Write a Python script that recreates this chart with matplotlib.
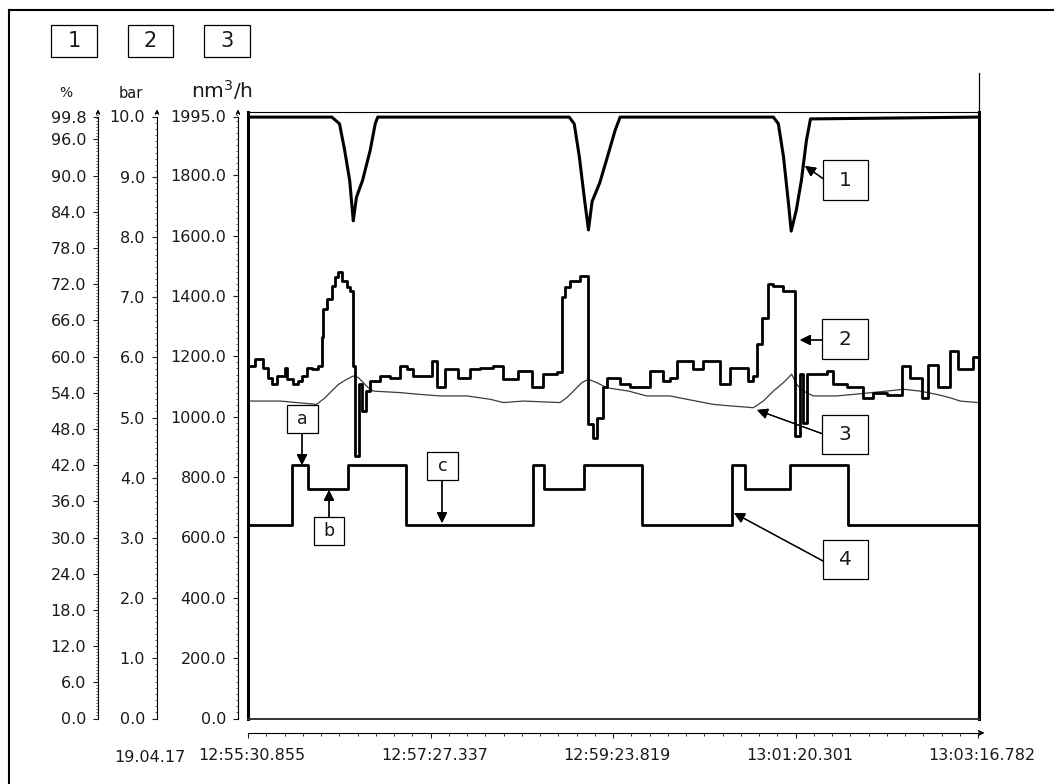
import matplotlib
matplotlib.use('Agg')
import matplotlib.pyplot as plt
from matplotlib.patches import Rectangle
from matplotlib.lines import Line2D
from matplotlib.ticker import MultipleLocator, FixedLocator
from matplotlib.transforms import ScaledTranslation

plt.rcParams.update({
    'font.family': 'DejaVu Sans',
    'font.size': 11.5,
    'text.color': '#1a1a1a',
    'xtick.color': '#1a1a1a',
    'ytick.color': '#1a1a1a',
})

# ── Data ──────────────────────────────────────────────────────
T_END = 465.927   # seconds, 12:55:30.855 -> 13:03:16.782
x_ticks = [0, 116.482, 232.964, 349.446, T_END]
x_labels = ['12:55:30.855', '12:57:27.337', '12:59:23.819', '13:01:20.301', '13:03:16.782']
date_label = '19.04.17'

# 1 : % (valve opening)
s1_t = [0, 53.5, 58.4, 61.7, 64.9, 66.6, 67.2, 69.2, 73.1, 78.0, 81.2, 82.8,
        205.0, 208.2, 211.5, 214.7, 217.3, 219.6, 224.5, 229.4, 234.3, 237.5,
        335.3, 338.5, 341.8, 345.0, 346.7, 349.9, 353.2, 356.4, 359.0, T_END]
s1_v = [99.7, 99.7, 98.6, 94.2, 89.2, 84.2, 82.5, 86.4, 89.2, 94.2, 98.6, 99.7,
        99.7, 98.6, 93.1, 86.2, 81.0, 85.7, 88.8, 93.1, 97.5, 99.7,
        99.7, 98.6, 93.1, 85.3, 80.8, 84.2, 89.2, 95.8, 99.4, 99.7]

# 2 : bar (pressure)
s2_t = [0, 4.5, 9.8, 13.0, 15.1, 18.3, 23.6, 24.7, 29.0, 32.1, 34.3, 37.5, 40.7, 44.9,
        47.0, 48.1, 50.2, 53.4, 55.5, 57.7, 59.8, 63.0, 65.1, 66.8, 68.3, 71.1, 72.6,
        75.3, 77.9, 84.3, 90.7, 97.0, 101.3, 105.6, 117.3, 120.4, 125.8, 134.3, 141.7,
        148.1, 156.6, 163.0, 172.6, 181.1, 188.5, 197.1, 200.2, 202.4, 205.6, 212.0,
        217.3, 220.5, 222.6, 226.8, 229.0, 237.4, 243.8, 256.6, 265.1, 269.3, 273.6,
        284.2, 290.6, 301.2, 307.6, 319.3, 322.5, 324.6, 327.8, 332.1, 335.3, 341.7,
        349.1, 352.3, 354.4, 356.6, 369.3, 373.6, 382.1, 392.7, 399.1, 407.6, 417.2,
        422.5, 430.0, 434.2, 440.6, 448.1, 453.4, 463.0, T_END]
s2_v = [5.86, 5.97, 5.83, 5.66, 5.55, 5.69, 5.83, 5.64, 5.55, 5.61, 5.69, 5.83, 5.80, 5.86,
        6.33, 6.80, 6.97, 7.19, 7.33, 7.41, 7.27, 7.16, 7.10, 5.86, 4.36, 5.55, 5.11,
        5.44, 5.61, 5.69, 5.66, 5.86, 5.80, 5.69, 5.94, 5.50, 5.80, 5.66, 5.80,
        5.83, 5.86, 5.64, 5.77, 5.50, 5.72, 5.75, 7.00, 7.16, 7.27, 7.35,
        4.89, 4.66, 5.00, 5.50, 5.66, 5.55, 5.50, 5.77, 5.61, 5.66, 5.94,
        5.80, 5.94, 5.55, 5.83, 5.61, 5.69, 6.22, 6.66, 7.22, 7.19, 7.10,
        4.69, 5.72, 4.91, 5.72, 5.77, 5.55, 5.50, 5.33, 5.41, 5.38, 5.86,
        5.66, 5.33, 5.88, 5.50, 6.11, 5.80, 6.00, 6.00]

# 3 : nm3/h (flow)
s3_t = [0, 20.4, 43.8, 49.2, 53.4, 57.7, 63.0, 67.2, 70.4, 73.6, 76.8, 80.0, 97.0,
        109.8, 122.6, 139.6, 154.5, 163.0, 175.8, 199.2, 203.4, 207.7, 213.0, 217.3,
        222.6, 229.0, 243.0, 254.4, 269.3, 280.0, 297.0, 307.6, 322.5, 328.9, 335.3,
        341.7, 347.0, 350.2, 354.4, 360.8, 375.7, 386.4, 407.6, 418.3, 428.9, 439.6,
        448.1, 454.5, T_END]
s3_v = [1052, 1052, 1041, 1063, 1085, 1107, 1124, 1135, 1130, 1113, 1096, 1085, 1080,
        1074, 1069, 1069, 1058, 1047, 1052, 1047, 1063, 1085, 1113, 1124,
        1113, 1096, 1085, 1069, 1069, 1058, 1041, 1036, 1030, 1052, 1085,
        1113, 1141, 1107, 1085, 1069, 1069, 1074, 1085, 1091, 1085, 1074,
        1063, 1052, 1047]

# 4 : % (set point)
s4_t = [0, 28.1, 38.3, 63.8, 100.9, 181.9, 188.9, 214.5, 251.5, 308.9, 317.2, 346.0, 383.0, T_END]
s4_v = [32, 42, 38, 42, 32, 42, 38, 42, 32, 42, 38, 42, 32, 32]

# ── Layout helpers (figure pixels) ────────────────────────────
W, H = 1054, 784
def fx(x):
    return x / W
def fy(y):
    return 1 - y / H

Y0, YTOP = 718.5, 112.0       # pixel rows of value 0 and frame top
K = (Y0 - YTOP) / (Y0 - 116.5)  # frame top / axis max ratio
AX_B, AX_H = fy(Y0), (Y0 - YTOP) / H

fig = plt.figure(figsize=(W / 100, H / 100), dpi=100)

# ── Main plot ─────────────────────────────────────────────────
ax = fig.add_axes([fx(248), AX_B, (979 - 248) / W, AX_H])
ax.set_xlim(0, T_END * 731 / 730)
ax.set_ylim(0, 1995 * K)
ax.set_xticks([]); ax.set_yticks([])
for side, lw, col in [('left', 2.2, 'black'), ('right', 2.2, 'black'),
                      ('top', 0.8, 'black'), ('bottom', 1.4, '#333333')]:
    ax.spines[side].set_linewidth(lw)
    ax.spines[side].set_color(col)

ax_pct = ax.twinx()
ax_pct.set_ylim(0, 99.8 * K)
ax_bar = ax.twinx()
ax_bar.set_ylim(0, 10.0 * K)
for a in (ax_pct, ax_bar):
    a.set_yticks([])
    for s in a.spines.values():
        s.set_visible(False)

ax.plot(s3_t, s3_v, color='#3c3c3c', lw=0.9)
ax_bar.plot(s2_t, s2_v, color='black', lw=2.0, drawstyle='steps-post')
ax_pct.plot(s4_t, s4_v, color='black', lw=2.0, drawstyle='steps-post')
ax_pct.plot(s1_t, s1_v, color='black', lw=2.2)

# cursor line above right edge
fig.add_artist(Line2D([fx(979), fx(979)], [fy(73), fy(YTOP)], color='black', lw=0.9))

# ── Left value axes ───────────────────────────────────────────
axes_spec = [
    (98, 99.8, [i * 6.0 for i in range(17)] + [99.8], 0.5),
    (157, 10.0, [float(i) for i in range(11)], 0.1),
    (238, 1995.0, [i * 200.0 for i in range(10)] + [1995.0], 20),
]
for xpix, vmax, majors, minor in axes_spec:
    la = fig.add_axes([fx(xpix), AX_B, 0.0001, AX_H])
    la.set_ylim(0, vmax * K)
    la.set_xticks([])
    for s in ('right', 'top', 'bottom'):
        la.spines[s].set_visible(False)
    la.spines['left'].set_bounds(0, vmax)
    la.spines['left'].set_linewidth(0.8)
    la.yaxis.set_major_locator(FixedLocator(majors))
    la.yaxis.set_minor_locator(MultipleLocator(minor))
    la.set_yticklabels(['%.1f' % v for v in majors])
    la.tick_params(axis='y', which='major', length=3.5, width=0.8, pad=5, labelsize=11.5)
    la.tick_params(axis='y', which='minor', length=1.6, width=0.5)
    fig.add_artist(plt.annotate('', xy=(fx(xpix), fy(107)), xytext=(fx(xpix), fy(116.5)),
                                xycoords='figure fraction',
                                arrowprops=dict(arrowstyle='->', lw=0.7, mutation_scale=6)))

# ── Time axis ────────────────────────────────────────────────
tx = fig.add_axes([fx(248), fy(733), 730 / W, 0.0001])
tx.set_xlim(0, T_END)
tx.set_yticks([])
for s in ('left', 'right', 'top'):
    tx.spines[s].set_visible(False)
tx.spines['bottom'].set_linewidth(0.8)
tx.xaxis.set_major_locator(FixedLocator(x_ticks))
tx.xaxis.set_minor_locator(MultipleLocator(x_ticks[1] / 10))
tx.set_xticklabels(x_labels)
tx.tick_params(axis='x', which='major', length=3.5, width=0.8, pad=7, labelsize=11.5)
tx.tick_params(axis='x', which='minor', length=2, width=0.6)
shift = ScaledTranslation(4 / 100, 0, fig.dpi_scale_trans)
for lbl in tx.get_xticklabels():
    lbl.set_transform(lbl.get_transform() + shift)
fig.text(fx(150), fy(757), date_label, ha='center', va='center', fontsize=11.5)
fig.add_artist(plt.annotate('', xy=(fx(987), fy(733)), xytext=(fx(976), fy(733)),
                            xycoords='figure fraction',
                            arrowprops=dict(arrowstyle='->', lw=0.8, mutation_scale=8)))

# ── Header boxes and units ───────────────────────────────────
def box(x0, y0, x1, y1, label, size):
    fig.add_artist(Rectangle((fx(x0), fy(y1)), (x1 - x0) / W, (y1 - y0) / H,
                             transform=fig.transFigure, fill=True, facecolor='white',
                             edgecolor='black', lw=0.9, zorder=5))
    fig.text(fx((x0 + x1) / 2), fy((y0 + y1) / 2), label, ha='center', va='center',
             fontsize=size, zorder=6)

box(51, 25, 97, 57, '1', 15)
box(128, 25, 173, 57, '2', 15)
box(204, 25, 250, 57, '3', 15)
fig.text(fx(66), fy(93), '%', ha='center', va='center', fontsize=10)
fig.text(fx(131), fy(93), 'bar', ha='center', va='center', fontsize=10.5)
fig.text(fx(222), fy(90), 'nm$^3$/h', ha='center', va='center', fontsize=14.5)

# ── Callouts ─────────────────────────────────────────────────
def arrow(x0, y0, x1, y1):
    fig.add_artist(plt.annotate('', xy=(fx(x1), fy(y1)), xytext=(fx(x0), fy(y0)),
                                xycoords='figure fraction',
                                arrowprops=dict(arrowstyle='-|>', lw=0.9, color='black',
                                                mutation_scale=16, shrinkA=0, shrinkB=0)))

arrow(825, 180, 805, 166)
box(823, 160, 868, 200, '1', 14.5)
arrow(822, 340, 800, 340)
box(822, 319, 868, 359, '2', 14.5)
arrow(823, 434, 757, 410)
box(822, 415, 868, 454, '3', 14.5)
arrow(823, 561, 734, 513)
box(823, 540, 868, 579, '4', 14.5)
arrow(302, 433, 302, 465)
box(287, 405, 318, 433, 'a', 12.5)
arrow(329, 517, 329, 490)
box(314, 517, 344, 545, 'b', 12.5)
arrow(442, 480, 442, 523)
box(427, 452, 458, 480, 'c', 12.5)

# outer frame
fig.add_artist(Line2D([fx(9), fx(9)], [fy(10), 0], color='black', lw=1.5))
fig.add_artist(Line2D([fx(9), 1], [fy(10), fy(10)], color='black', lw=1.5))

fig.savefig('out.png', dpi=100, facecolor='white')
